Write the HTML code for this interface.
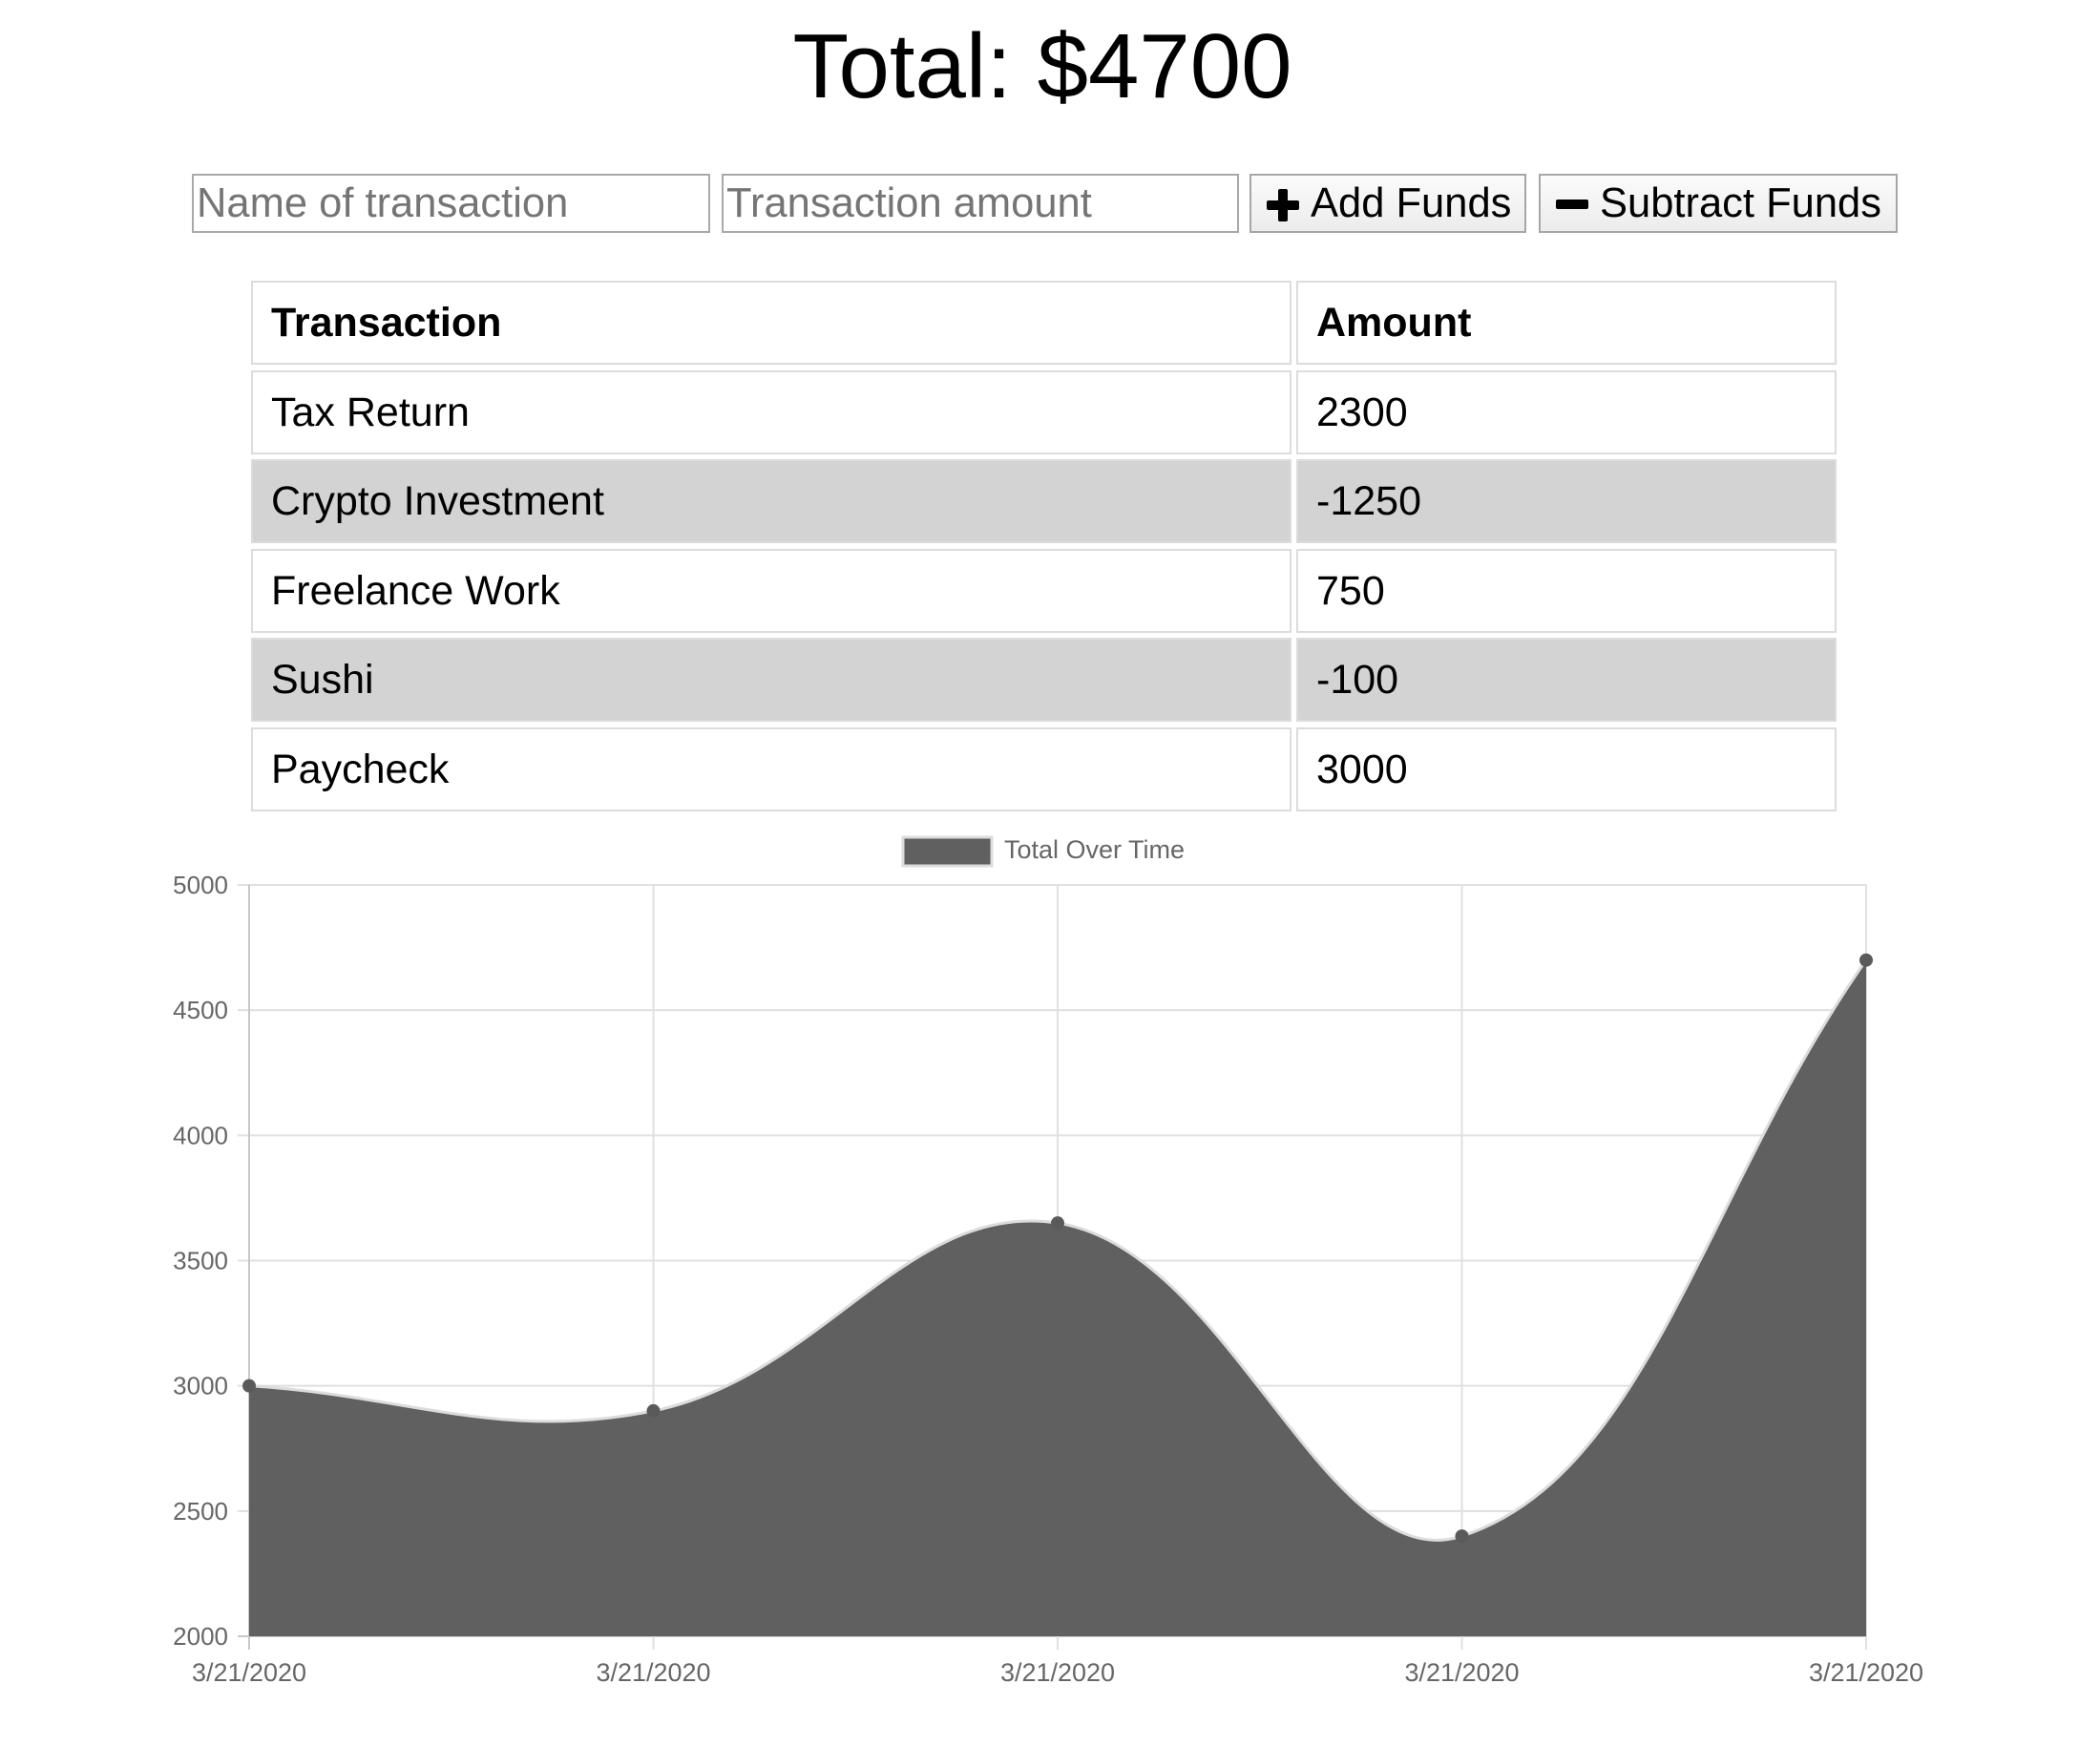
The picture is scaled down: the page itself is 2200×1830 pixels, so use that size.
<!DOCTYPE html>
<html><head><meta charset="utf-8"><style>
body{margin:0;width:2200px;height:1830px;background:#fff;position:relative;overflow:hidden;font-family:"Liberation Sans",Arial,sans-serif;}
.abs{position:absolute;box-sizing:border-box;}
#title{left:-8px;width:2200px;top:10px;text-align:center;font-size:96px;line-height:120px;color:#000;}
.inp{height:62px;top:182px;border:2px solid #a9a9a9;font-size:43.5px;color:#757575;padding-left:3px;line-height:58px;background:#fff;white-space:nowrap;overflow:hidden;}
.btn{height:62px;top:182px;border:2px solid #a6a6a6;font-size:43.5px;color:#000;line-height:58px;background:linear-gradient(#fbfbfb,#ececec);white-space:nowrap;}
.cell{border:2px solid #dcdcdc;font-size:43px;line-height:84px;padding-left:19px;color:#000;height:88px;}
.hd{font-weight:bold;}
.gray{background:#d3d3d3;}
</style></head><body>
<div id="title" class="abs">Total: $4700</div>
<div class="abs inp" style="left:201px;width:543px;">Name of transaction</div>
<div class="abs inp" style="left:756px;width:542px;">Transaction amount</div>
<div class="abs btn" style="left:1309px;width:290px;"><span style="position:absolute;left:16px;top:16px;width:34px;height:28px;"><span style="position:absolute;left:12px;top:-2px;width:10px;height:34px;background:#000;border-radius:2px"></span><span style="position:absolute;left:0;top:10px;width:34px;height:10px;background:#000;border-radius:2px"></span></span><span style="position:absolute;left:62px;">Add Funds</span></div>
<div class="abs btn" style="left:1612px;width:376px;"><span style="position:absolute;left:16px;top:25px;width:34px;height:10px;background:#000;border-radius:2px"></span><span style="position:absolute;left:62px;">Subtract Funds</span></div>

<div id="table"></div>

<svg class="abs" style="left:0;top:0" width="2200" height="1830" id="chart"></svg>

<script>
const rowsNames=["Transaction","Tax Return","Crypto Investment","Freelance Work","Sushi","Paycheck"];
const rowsAmounts=["Amount","2300","-1250","750","-100","3000"];
const labels=["3/21/2020","3/21/2020","3/21/2020","3/21/2020","3/21/2020"];
const values=[3000,2900,3650,2400,4700];
const yTicks=[2000,2500,3000,3500,4000,4500,5000];

const tbl=document.getElementById('table');
rowsNames.forEach((n,i)=>{
  const top=294+i*93.5;
  [[263,1090,n],[1358,566,rowsAmounts[i]]].forEach((c,j)=>{
    const d=document.createElement('div');
    d.className='abs cell'+(i===0?' hd':'')+(i===2||i===4?' gray':'');
    d.style.left=c[0]+'px';d.style.top=top+'px';d.style.width=c[1]+'px';
    d.textContent=c[2];
    
    
    tbl.appendChild(d);
  });
});

const NS='http://www.w3.org/2000/svg';
const svg=document.getElementById('chart');
const L=261,R=1955,T=927,B=1714,ymin=2000,ymax=5000;
const xs=i=>L+i*(R-L)/(labels.length-1);
const ys=v=>B-(v-ymin)/(ymax-ymin)*(B-T);
function mk(tag,attrs,name){const e=document.createElementNS(NS,tag);for(const k in attrs)e.setAttribute(k,attrs[k]);svg.appendChild(e);return e;}
yTicks.forEach(t=>{
  mk('line',{x1:L-12,x2:R,y1:ys(t),y2:ys(t),stroke:t===ymin?'#c8c8c8':'#e0e0e0','stroke-width':2},'y-gridline');
  const tx=mk('text',{x:L-22,y:ys(t)+9,'text-anchor':'end','font-size':26,fill:'#666','font-family':'Liberation Sans, Arial, sans-serif'},'y-tick-label');tx.textContent=t;
});
labels.forEach((l,i)=>{
  mk('line',{x1:xs(i),x2:xs(i),y1:T,y2:B+14,stroke:i===0?'#c8c8c8':'#e0e0e0','stroke-width':2},'x-gridline');
  const tx=mk('text',{x:xs(i),y:B+47,'text-anchor':'middle','font-size':27,fill:'#666','font-family':'Liberation Sans, Arial, sans-serif'},'x-tick-label');tx.textContent=l;
});
const pts=values.map((v,i)=>[xs(i),ys(v)]);
const tension=0.4;const cps=pts.map((p,i)=>{
  const pr=pts[Math.max(0,i-1)],nx=pts[Math.min(pts.length-1,i+1)];
  const d01=Math.hypot(p[0]-pr[0],p[1]-pr[1]),d12=Math.hypot(nx[0]-p[0],nx[1]-p[1]);
  const s=d01+d12||1;const fa=tension*d01/s,fb=tension*d12/s;
  return {p:[p[0]-fa*(nx[0]-pr[0]),p[1]-fa*(nx[1]-pr[1])],n:[p[0]+fb*(nx[0]-pr[0]),p[1]+fb*(nx[1]-pr[1])]};
});
let d='M'+pts[0][0]+','+pts[0][1];
for(let i=1;i<pts.length;i++){d+=' C'+cps[i-1].n[0]+','+cps[i-1].n[1]+' '+cps[i].p[0]+','+cps[i].p[1]+' '+pts[i][0]+','+pts[i][1];}
mk('path',{d:d+' L'+R+','+B+' L'+L+','+B+' Z',fill:'#606060'},'area-fill');
mk('path',{d:d,fill:'none',stroke:'#dcdcdc','stroke-width':3},'area-line');
pts.forEach(p=>mk('circle',{cx:p[0],cy:p[1],r:7,fill:'#5a5a5a'},'data-point'));
mk('rect',{x:946,y:877,width:93,height:30,fill:'#606060',stroke:'#dcdcdc','stroke-width':3},'legend-swatch');
const lt=mk('text',{x:1052,y:899,'font-size':27,fill:'#666','font-family':'Liberation Sans, Arial, sans-serif'},'legend-label');lt.textContent='Total Over Time';
</script>
</body></html>
